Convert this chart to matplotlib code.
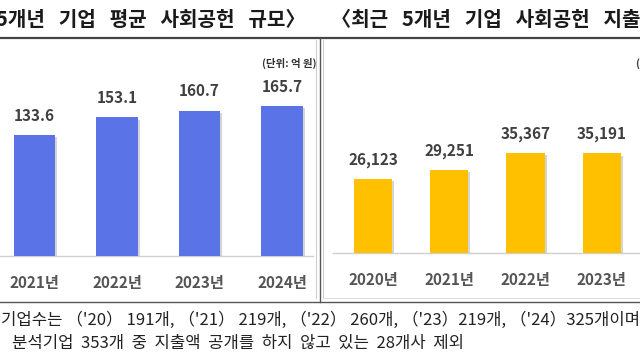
import matplotlib
matplotlib.use("Agg")
import matplotlib.pyplot as plt
import matplotlib.patheffects as pe

plt.rcParams['font.family'] = ['Noto Sans CJK KR', 'DejaVu Sans']

# left chart: average social contribution per company (100M KRW)
years_avg = ['2021년', '2022년', '2023년', '2024년']
avg_vals = [133.6, 153.1, 160.7, 165.7]
avg_labels = ['133.6', '153.1', '160.7', '165.7']

# right chart: total spending (visible part of the crop)
years_tot = ['2020년', '2021년', '2022년', '2023년']
tot_vals = [26123, 29251, 35367, 35191]
tot_labels = ['26,123', '29,251', '35,367', '35,191']

title_left = '5개년   기업   평균   사회공헌   규모〉'
title_right = '〈최근   5개년   기업   사회공헌   지출액   규모〉'
unit = '(단위: 억 원)'
notes = ["기업수는 （'20） 191개, （'21） 219개, （'22） 260개, （'23）219개, （'24）325개이며",
         "분석기업  353개  중  지출액  공개를  하지  않고  있는  28개사  제외"]

W, H = 640, 360
fig = plt.figure(figsize=(W / 100, H / 100), dpi=100)

# pixel-coordinate overlay for frame lines and titles
base = fig.add_axes([0, 0, 1, 1])
base.set_xlim(0, W)
base.set_ylim(H, 0)
base.axis('off')

base.plot([0, W], [38, 38], color='#444444', lw=1.6)
base.plot([0, W], [302, 302], color='#555555', lw=1.0)
base.plot([320, 320], [38, 302], color='#555555', lw=1.0)
base.plot([316, 316], [40, 298], color='#cccccc', lw=0.8)
base.plot([323, 323], [40, 298], color='#cccccc', lw=0.8)
base.plot([323, W], [298, 298], color='#dddddd', lw=0.8)

base.text(306, 19, title_left, ha='right', va='center', fontsize=14.5,
          fontweight='bold', color='#1a1a1a')
base.text(331, 19, title_right, ha='left', va='center', fontsize=14.5,
          fontweight='bold', color='#1a1a1a')
base.text(317, 63, unit, ha='right', va='center', fontsize=7.5,
          fontweight='bold', color='#333333')
base.text(636, 63, unit, ha='left', va='center', fontsize=7.5,
          fontweight='bold', color='#333333')
base.text(1, 320, notes[0], ha='left', va='center', fontsize=12,
          color='#222222')
base.text(12, 343, notes[1], ha='left', va='center', fontsize=12,
          color='#222222')

shadow = [pe.SimplePatchShadow(offset=(1.5, -1.5), shadow_rgbFace='#888888', alpha=0.35),
          pe.Normal()]


def px_axes(x0, x1, ytop, ybot):
    return fig.add_axes([x0 / W, 1 - ybot / H, (x1 - x0) / W, (ybot - ytop) / H])


def bar_panel(ax, labels, vals, vlabels, color, xlim, ymax):
    pos = list(range(len(vals)))
    bars = ax.bar(pos, vals, width=0.5, color=color, zorder=3)
    for b in bars:
        b.set_path_effects(shadow)
    for p, v, t in zip(pos, vals, vlabels):
        ax.annotate(t, (p, v), xytext=(0, 8), textcoords='offset points',
                    ha='center', va='bottom', fontsize=11, fontweight='bold',
                    color='#404040')
    ax.set_xlim(*xlim)
    ax.set_ylim(0, ymax)
    ax.set_xticks(pos)
    ax.set_xticklabels(labels, fontsize=11, fontweight='bold', color='#555555')
    ax.tick_params(axis='x', length=0, pad=14)
    ax.set_yticks([])
    for s in ['top', 'left', 'right']:
        ax.spines[s].set_visible(False)
    ax.spines['bottom'].set_color('#d0d0d0')
    ax.spines['bottom'].set_linewidth(1.0)
    ax.patch.set_alpha(0)


ax1 = px_axes(0, 313, 80, 256)
bar_panel(ax1, years_avg, avg_vals, avg_labels, '#5A74E8',
          (-0.418, 3.376), (256 - 80) / 0.905)

ax2 = px_axes(333, 640, 80, 253)
bar_panel(ax2, years_tot, tot_vals, tot_labels, '#FFC000',
          (-0.524, 3.5), (253 - 80) * 353.5)

fig.savefig('out.png', dpi=100)
